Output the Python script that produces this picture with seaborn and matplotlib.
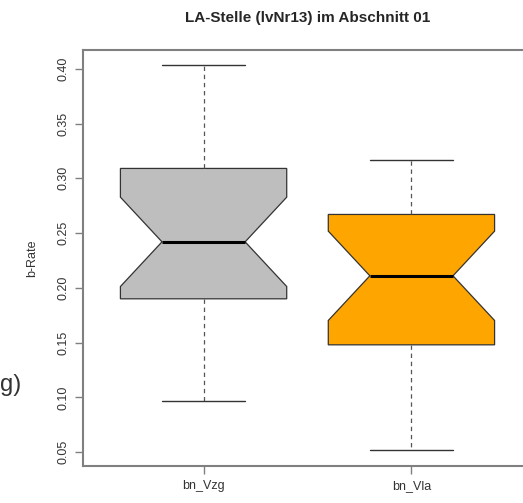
import pandas as pd
import matplotlib
matplotlib.use("Agg")
import matplotlib.pyplot as plt
import seaborn as sns

bn_vzg = [0.097, 0.128, 0.151, 0.166, 0.178, 0.190, 0.203, 0.214, 0.225, 0.236, 0.242,
          0.251, 0.263, 0.277, 0.292, 0.309, 0.324, 0.341, 0.358, 0.379, 0.403]
bn_vla = [0.052, 0.081, 0.104, 0.119, 0.134, 0.148, 0.161, 0.176, 0.188, 0.201, 0.211,
          0.222, 0.233, 0.244, 0.256, 0.267, 0.276, 0.286, 0.297, 0.308, 0.317]
groups = ["bn_Vzg", "bn_Vla"]
colors = ["#BEBEBE", "#FFA500"]
yticks = [0.05, 0.10, 0.15, 0.20, 0.25, 0.30, 0.35, 0.40]

df = pd.DataFrame({
    "group": [groups[0]] * len(bn_vzg) + [groups[1]] * len(bn_vla),
    "value": bn_vzg + bn_vla,
})

sns.set_style("white")
plt.rcParams["font.family"] = ["Liberation Sans", "DejaVu Sans"]

fig = plt.figure(figsize=(5.23, 5.03), dpi=100)
ax = fig.add_axes([83 / 523, 1 - 466 / 503, 449 / 523, 416 / 503])

sns.boxplot(data=df, x="group", y="value", hue="group", palette=colors, legend=False,
            notch=True, width=0.8, saturation=1, ax=ax, linecolor="#333333", linewidth=0.9,
            whiskerprops=dict(linestyle=(0, (3.5, 3)), color="#555555", linewidth=0.9),
            capprops=dict(color="#333333", linewidth=1),
            medianprops=dict(color="black", linewidth=2.2))

ax.set_xlim(-0.58, 1.58)
ax.set_ylim(0.0374, 0.4171)
ax.set_yticks(yticks)
ax.set_yticklabels([f"{t:.2f}" for t in yticks], rotation=90, va="center")
ax.set_xlabel("")
ax.set_ylabel("b-Rate", fontsize=9, color="#333333", labelpad=14)
ax.tick_params(axis="both", direction="out", length=6, width=1, color="#808080",
               labelsize=9, labelcolor="#333333", left=True, bottom=True)
ax.tick_params(axis="y", pad=4)
ax.tick_params(axis="x", pad=4)
for s in ax.spines.values():
    s.set_color("#808080")
    s.set_linewidth(1.5)

fig.text(307.5 / 523, 1 - 18 / 503, "LA-Stelle (lvNr13) im Abschnitt 01",
         ha="center", va="center", fontsize=11, fontweight="bold")
fig.text(0, 1 - 385 / 503, "g)", ha="left", va="center", fontsize=17, color="#333333")

fig.savefig("out.png", dpi=100)
